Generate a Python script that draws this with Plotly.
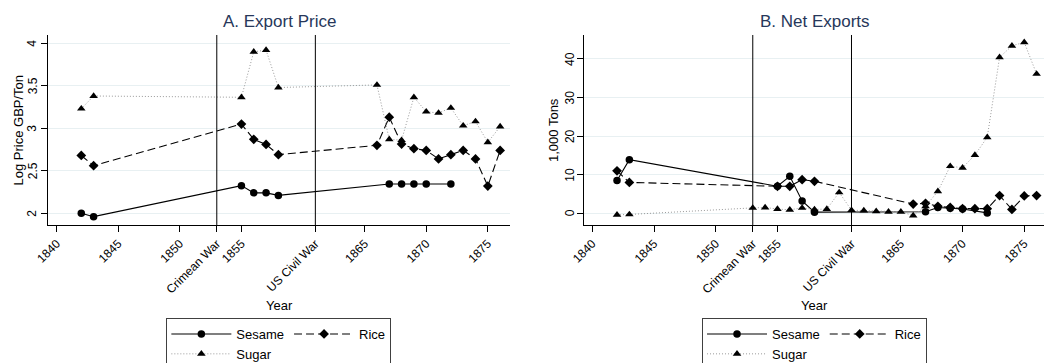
import plotly.graph_objects as go

# ---------------- data ----------------
sesame_price_years = [1842, 1843, 1855, 1856, 1857, 1858, 1867, 1868, 1869, 1870, 1872]
sesame_price = [2.00, 1.96, 2.325, 2.24, 2.24, 2.21, 2.345, 2.345, 2.345, 2.345, 2.345]

rice_years = [1842, 1843, 1855, 1856, 1857, 1858, 1866, 1867, 1868, 1869, 1870, 1871, 1872, 1873, 1874, 1875, 1876]
rice_price = [2.68, 2.56, 3.05, 2.87, 2.81, 2.69, 2.80, 3.13, 2.815, 2.76, 2.74, 2.64, 2.69, 2.74, 2.64, 2.32, 2.74]

sugar_price_years = [1842, 1843, 1855, 1856, 1857, 1858, 1866, 1867, 1868, 1869, 1870, 1871, 1872, 1873, 1874, 1875, 1876]
sugar_price = [3.23, 3.38, 3.365, 3.90, 3.92, 3.48, 3.51, 2.87, 2.86, 3.365, 3.195, 3.18, 3.24, 3.03, 3.08, 2.835, 3.02]

sesame_exp_years = [1842, 1843, 1855, 1856, 1857, 1858, 1867, 1868, 1869, 1870, 1872]
sesame_exp = [8.5, 13.9, 7.0, 9.6, 3.2, 0.3, 0.4, 1.5, 1.3, 1.1, 0.1]

rice_exp = [11.0, 8.0, 7.0, 7.0, 8.7, 8.3, 2.4, 2.6, 1.8, 1.5, 1.2, 1.2, 1.2, 4.6, 1.0, 4.5, 4.6]

sugar_exp_years = [1842, 1843, 1853, 1854, 1855, 1856, 1857, 1858, 1859, 1860, 1861, 1862, 1863,
                   1864, 1865, 1866, 1867, 1868, 1869, 1870, 1871, 1872, 1873, 1874, 1875, 1876]
sugar_exp = [-0.4, -0.3, 1.4, 1.5, 1.1, 0.9, 1.4, 1.0, 1.1, 5.4, 0.8, 0.7, 0.5,
             0.4, 0.4, -0.6, 1.8, 5.7, 12.2, 11.8, 15.1, 19.7, 40.4, 43.4, 44.3, 36.1]

x_tickvals = [1840, 1845, 1850, 1853, 1855, 1861, 1865, 1870, 1875]
x_ticktext = ["1840", "1845", "1850", "Crimean War", "1855", "US Civil War", "1865", "1870", "1875"]
war_years = [1853, 1861]

price_ticks = [2, 2.5, 3, 3.5, 4]
price_ticktext = ["2", "2.5", "3", "3.5", "4"]
exp_ticks = [0, 10, 20, 30, 40]
exp_ticktext = ["0", "10", "20", "30", "40"]

FONT = "Liberation Sans, Arial, Helvetica, sans-serif"
TITLE_COLOR = "#27375a"
W, H = 1044, 363

fig = go.Figure()

def add_series(x, y, name, xa, ya, leg, group, style):
    line, marker = style
    fig.add_trace(go.Scatter(
        x=x, y=y, name=name, mode="lines+markers",
        xaxis=xa, yaxis=ya, legend=leg, legendgroup=group,
        line=line, marker=marker, hoverinfo="skip"))

st_sesame = (dict(color="black", width=1.1), dict(symbol="circle", size=7.5, color="black"))
st_rice = (dict(color="black", width=1.1, dash="8px,4px"), dict(symbol="diamond", size=7.5, color="black"))
st_sugar = (dict(color="#999999", width=1, dash="1px,2px"), dict(symbol="triangle-up", size=7.5, color="black"))

add_series(sesame_price_years, sesame_price, "Sesame", "x", "y", "legend", "a1", st_sesame)
add_series(rice_years, rice_price, "Rice", "x", "y", "legend", "a2", st_rice)
add_series(sugar_price_years, sugar_price, "Sugar", "x", "y", "legend", "a1", st_sugar)

add_series(sesame_exp_years, sesame_exp, "Sesame", "x2", "y2", "legend2", "b1", st_sesame)
add_series(rice_years, rice_exp, "Rice", "x2", "y2", "legend2", "b2", st_rice)
add_series(sugar_exp_years, sugar_exp, "Sugar", "x2", "y2", "legend2", "b1", st_sugar)

ydom = [0.3802, 0.9036]
xaxis_common = dict(
    tickmode="array", tickvals=x_tickvals, ticktext=x_ticktext, tickangle=-45,
    showgrid=False, zeroline=False, showline=True, linecolor="black", linewidth=1,
    ticks="outside", ticklen=6, tickcolor="black", tickwidth=1,
    tickfont=dict(family=FONT, size=12, color="black"),
)
yaxis_common = dict(
    showgrid=True, gridcolor="#e8f0f2", gridwidth=1, zeroline=False,
    showline=True, linecolor="black", linewidth=1,
    ticks="outside", ticklen=6, tickcolor="black", tickwidth=1,
    showticklabels=False, domain=ydom, tickmode="array",
)
legend_common = dict(orientation="h", traceorder="grouped", tracegroupgap=0, itemwidth=60,
                     yanchor="top", y=0.1185 + 2 / H, xanchor="center",
                     bordercolor="#404040", borderwidth=1, bgcolor="white",
                     font=dict(family=FONT, size=13, color="black"))

fig.update_layout(
    width=W, height=H,
    margin=dict(l=0, r=0, t=0, b=0, autoexpand=False),
    paper_bgcolor="white", plot_bgcolor="white",
    font=dict(family=FONT, size=12, color="black"),
    xaxis=dict(**xaxis_common, anchor="y", domain=[0.0460, 0.4885], range=[1839.3, 1876.8]),
    yaxis=dict(**yaxis_common, anchor="x", tickvals=price_ticks, range=[1.862, 4.098]),
    xaxis2=dict(**xaxis_common, anchor="y2", domain=[0.5597, 1.0], range=[1839.35, 1876.6]),
    yaxis2=dict(**yaxis_common, anchor="x2", tickvals=exp_ticks, range=[-3.03, 46.2]),
    legend=dict(**legend_common, x=0.2671),
    legend2=dict(**legend_common, x=0.7802),
    showlegend=True,
)

# war markers
shapes = []
for xa, ya in [("x", "y"), ("x2", "y2")]:
    for wy in war_years:
        shapes.append(dict(type="line", xref=xa, yref=f"{ya} domain", x0=wy, x1=wy, y0=0, y1=1,
                           line=dict(color="black", width=1), layer="above"))
fig.update_layout(shapes=shapes)

# vertical (rotated) y tick labels
for yref, vals, texts, xpx in [("y", price_ticks, price_ticktext, 32.5),
                               ("y2", exp_ticks, exp_ticktext, 570)]:
    for v, t in zip(vals, texts):
        fig.add_annotation(text=t, x=xpx / W, y=v, xref="paper", yref=yref,
                           xanchor="center", yanchor="middle", showarrow=False, textangle=-90,
                           font=dict(family=FONT, size=12, color="black"))

annots = [
    dict(text="A. Export Price", x=279 / W, y=1 - 21 / H, size=17, color=TITLE_COLOR, angle=0),
    dict(text="B. Net Exports", x=814.5 / W, y=1 - 21 / H, size=17, color=TITLE_COLOR, angle=0),
    dict(text="Year", x=279 / W, y=1 - 305 / H, size=13, color="black", angle=0),
    dict(text="Year", x=814.5 / W, y=1 - 305 / H, size=13, color="black", angle=0),
    dict(text="Log Price GBP/Ton", x=17.5 / W, y=1 - 130 / H, size=13, color="black", angle=-90),
    dict(text="1,000 Tons", x=553 / W, y=1 - 130 / H, size=13, color="black", angle=-90),
]
for a in annots:
    fig.add_annotation(text=a["text"], x=a["x"], y=a["y"], xref="paper", yref="paper",
                       xanchor="center", yanchor="middle", showarrow=False, textangle=a["angle"],
                       font=dict(family=FONT, size=a["size"], color=a["color"]))

fig.write_html("out.html")
